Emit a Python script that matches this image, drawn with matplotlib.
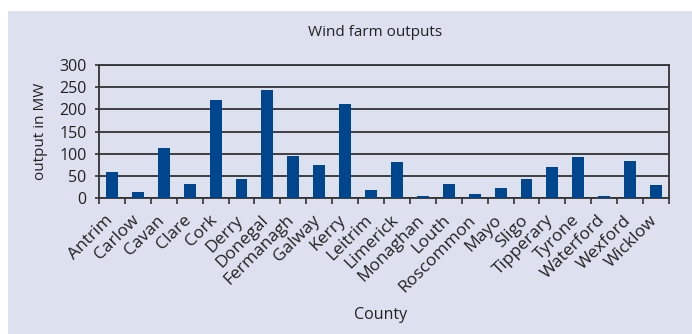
import matplotlib
matplotlib.use('Agg')
import matplotlib.pyplot as plt
import matplotlib.transforms as mtransforms
from matplotlib.patches import Rectangle
import numpy as np

################################################################################
# data
################################################################################

counties = ['Antrim', 'Carlow', 'Cavan', 'Clare', 'Cork', 'Derry', 'Donegal',
            'Fermanagh', 'Galway', 'Kerry', 'Leitrim', 'Limerick', 'Monaghan',
            'Louth', 'Roscommon', 'Mayo', 'Sligo', 'Tipperary', 'Tyrone',
            'Waterford', 'Wexford', 'Wicklow']
output_mw = [59, 14, 113, 32, 221, 43, 243, 95, 75, 212, 19, 82, 5,
             32, 10, 23, 43, 70, 93, 5, 84, 30]
y_ticks = [0, 50, 100, 150, 200, 250, 300]

bg = '#dde0ef'
bar_col = '#00468f'
line_col = '#333333'
txt_col = '#222222'

plt.rcParams['font.family'] = ['Open Sans', 'DejaVu Sans']

fig = plt.figure(figsize=(6.92, 3.34), dpi=100)
fig.patch.set_facecolor('white')
# shaded panel behind the chart
fig.patches.append(Rectangle((8/692, 0), 1, 1 - 11/334, transform=fig.transFigure,
                             facecolor=bg, edgecolor='none', zorder=-10))

ax = fig.add_axes([99/692, 135.7/334, 570/692, 133.6/334])
ax.set_zorder(5)
ax.set_facecolor(bg)

x = np.arange(len(counties))
ax.bar(x, output_mw, width=0.46, color=bar_col, zorder=3)

ax.set_xlim(-0.5, len(counties) - 0.5)
ax.set_ylim(0, 300)
ax.set_yticks(y_ticks)
ax.yaxis.grid(True, color=line_col, linewidth=1.3, zorder=1)
ax.set_axisbelow(True)

# ticks sit between the bars
ax.set_xticks(np.arange(-0.5, len(counties), 1.0))
ax.set_xticklabels([])
ax.set_xticks(x, minor=True)
ax.set_xticklabels(counties, minor=True, rotation=45, ha='right',
                   rotation_mode='anchor', fontsize=12.5, color=txt_col)
ax.tick_params(axis='x', which='minor', length=0, pad=8)
ax.tick_params(axis='x', which='major', length=4, width=1.2, color=line_col)
ax.tick_params(axis='y', length=3, width=1.2, color=line_col, labelsize=11.5,
               labelcolor=txt_col, pad=6)

# nudge the slanted labels a bit to the left like the original
shift = mtransforms.ScaledTranslation(-5/72, -2/72, fig.dpi_scale_trans)
for lab in ax.get_xticklabels(minor=True):
    lab.set_transform(lab.get_transform() + shift)

for s in ['left', 'right', 'bottom', 'top']:
    ax.spines[s].set_color(line_col)
    ax.spines[s].set_linewidth(1.3)

ax.set_ylabel('output in MW', fontsize=11, color=txt_col, labelpad=8)
fig.text(375/692, 1 - 33/334, 'Wind farm outputs', ha='center', va='center',
         fontsize=11, color=txt_col)
fig.text(381/692, 1 - 315/334, 'County', ha='center', va='center',
         fontsize=11.5, color=txt_col)

plt.savefig('out.png', dpi=100, facecolor=fig.get_facecolor())
